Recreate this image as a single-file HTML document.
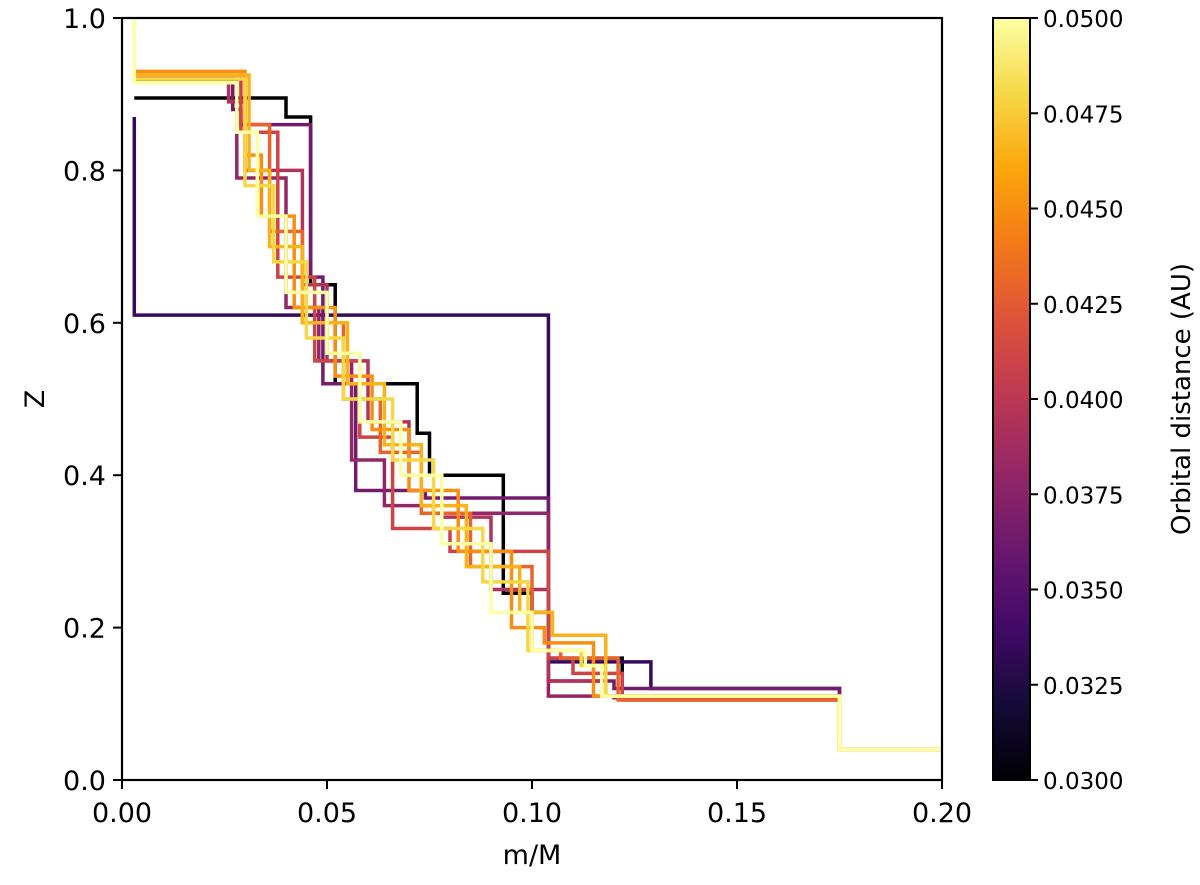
<!DOCTYPE html>
<html><head><meta charset="utf-8"><style>
body{margin:0;background:#fff;}
svg text{font-family:"DejaVu Sans","Liberation Sans",sans-serif;fill:#000;}
</style></head><body>
<svg id="chart" width="1200" height="880" xmlns="http://www.w3.org/2000/svg">
<defs>
<linearGradient id="inferno" x1="0" y1="1" x2="0" y2="0">
<stop offset="0" stop-color="#000004"/><stop offset="0.1" stop-color="#160b39"/><stop offset="0.2" stop-color="#420a68"/><stop offset="0.3" stop-color="#6a176e"/><stop offset="0.4" stop-color="#932667"/><stop offset="0.5" stop-color="#bc3754"/><stop offset="0.6" stop-color="#dd513a"/><stop offset="0.7" stop-color="#f37819"/><stop offset="0.8" stop-color="#fca50a"/><stop offset="0.9" stop-color="#f6d746"/><stop offset="1" stop-color="#fcffa4"/>
</linearGradient>
<clipPath id="plotclip"><rect x="122" y="18" width="820" height="762"/></clipPath>
</defs>
<g id="series" clip-path="url(#plotclip)"></g>
<rect x="122" y="18" width="820" height="762" fill="none" stroke="#000" stroke-width="2.2"/>
<g id="axes"></g>
<text x="532" y="864" font-size="27" text-anchor="middle">m/M</text>
<text x="0" y="0" font-size="27" text-anchor="middle" transform="translate(44,399) rotate(-90)">Z</text>
<rect x="993" y="18" width="37" height="762" fill="url(#inferno)" stroke="#000" stroke-width="2"/>
<g id="cbticks"></g>
<text x="0" y="0" font-size="26" text-anchor="middle" transform="translate(1190,399) rotate(-90)">Orbital distance (AU)</text>
</svg>
<script>
const xTicks=[0,0.05,0.10,0.15,0.20];
const xTickLabels=["0.00","0.05","0.10","0.15","0.20"];
const yTicks=[0,0.2,0.4,0.6,0.8,1.0];
const yTickLabels=["0.0","0.2","0.4","0.6","0.8","1.0"];
const cbTicks=[0.03,0.0325,0.035,0.0375,0.04,0.0425,0.045,0.0475,0.05];
const cbTickLabels=["0.0300","0.0325","0.0350","0.0375","0.0400","0.0425","0.0450","0.0475","0.0500"];
const seriesDist=[0.0300,0.0335,0.0365,0.0380,0.0395,0.0410,0.0430,0.0450,0.0465,0.0480,0.0500];
const seriesMass=[
[0.003,0.040,0.046,0.052,0.072,0.075,0.093,0.100,0.104,0.122,0.175,0.2],
[0.003,0.003,0.104,0.129,0.175,0.2],
[0.003,0.027,0.029,0.046,0.049,0.057,0.074,0.104,0.104,0.120,0.175,0.2],
[0.003,0.028,0.040,0.048,0.056,0.064,0.076,0.104,0.104,0.120,0.175,0.2],
[0.003,0.026,0.030,0.044,0.050,0.060,0.070,0.078,0.090,0.104,0.118,0.175,0.2],
[0.003,0.029,0.038,0.047,0.058,0.066,0.080,0.104,0.110,0.122,0.175,0.2],
[0.003,0.030,0.036,0.044,0.054,0.063,0.073,0.085,0.100,0.107,0.121,0.175,0.2],
[0.003,0.030,0.034,0.042,0.052,0.061,0.070,0.082,0.095,0.103,0.115,0.175,0.2],
[0.003,0.031,0.036,0.044,0.055,0.064,0.073,0.084,0.097,0.105,0.118,0.175,0.2],
[0.003,0.030,0.037,0.045,0.054,0.066,0.076,0.088,0.099,0.112,0.118,0.175,0.2],
[0.003,0.003,0.028,0.033,0.040,0.050,0.058,0.068,0.078,0.090,0.100,0.113,0.117,0.175,0.2]
];
const seriesZ=[
[0.895,0.87,0.65,0.52,0.455,0.40,0.245,0.22,0.16,0.11,0.04],
[0.87,0.61,0.155,0.12,0.04],
[0.92,0.88,0.86,0.66,0.52,0.38,0.37,0.16,0.13,0.12,0.04],
[0.92,0.79,0.62,0.55,0.42,0.36,0.35,0.13,0.11,0.108,0.04],
[0.92,0.89,0.80,0.65,0.55,0.47,0.40,0.345,0.25,0.13,0.11,0.04],
[0.925,0.85,0.66,0.55,0.45,0.33,0.30,0.16,0.14,0.105,0.04],
[0.925,0.86,0.72,0.60,0.50,0.43,0.35,0.28,0.17,0.16,0.105,0.04],
[0.93,0.82,0.74,0.62,0.53,0.46,0.38,0.30,0.20,0.18,0.11,0.04],
[0.925,0.80,0.70,0.60,0.52,0.44,0.36,0.28,0.22,0.19,0.11,0.04],
[0.92,0.78,0.68,0.58,0.50,0.42,0.33,0.26,0.17,0.15,0.11,0.04],
[1.0,0.915,0.85,0.74,0.64,0.56,0.47,0.40,0.31,0.22,0.17,0.15,0.11,0.04]
];
const NS="http://www.w3.org/2000/svg";
const X0=122,X1=942,Y0=780,Y1=18;
const sx=v=>X0+(v-0)/(0.2-0)*(X1-X0);
const sy=v=>Y0-(v-0)/(1-0)*(Y0-Y1);
const scb=v=>780-(v-0.03)/(0.05-0.03)*762;
const stops=[[0,"#000004"],[0.1,"#160b39"],[0.2,"#420a68"],[0.3,"#6a176e"],[0.4,"#932667"],[0.5,"#bc3754"],[0.6,"#dd513a"],[0.7,"#f37819"],[0.8,"#fca50a"],[0.9,"#f6d746"],[1,"#fcffa4"]];
function hx(h){return [1,3,5].map(i=>parseInt(h.substr(i,2),16));}
function cmap(t){t=Math.max(0,Math.min(1,t));for(let i=0;i<stops.length-1;i++){if(t<=stops[i+1][0]){const f=(t-stops[i][0])/(stops[i+1][0]-stops[i][0]);const a=hx(stops[i][1]),b=hx(stops[i+1][1]);return "rgb("+a.map((v,k)=>Math.round(v+(b[k]-v)*f)).join(",")+")";}}return stops[10][1];}
const sg=document.getElementById('series');
seriesDist.forEach((d,i)=>{
  const m=seriesMass[i],z=seriesZ[i];
  let p="M"+sx(m[0])+","+sy(z[0]);
  for(let k=0;k<z.length;k++){
    p+=" L"+sx(m[k+1])+","+sy(z[k]);
    if(k+1<z.length)p+=" L"+sx(m[k+1])+","+sy(z[k+1]);
  }
  const el=document.createElementNS(NS,'path');
  el.setAttribute('d',p);el.setAttribute('fill','none');
  el.setAttribute('stroke',cmap((d-0.03)/0.02));el.setAttribute('stroke-width','3.5');
  
  
  sg.appendChild(el);
});
const ax=document.getElementById('axes');
function line(g,x1,y1,x2,y2){const l=document.createElementNS(NS,'line');l.setAttribute('x1',x1);l.setAttribute('y1',y1);l.setAttribute('x2',x2);l.setAttribute('y2',y2);l.setAttribute('stroke','#000');l.setAttribute('stroke-width','2');g.appendChild(l);return l;}
function txt(g,x,y,s,anchor,fs){const t=document.createElementNS(NS,'text');t.setAttribute('x',x);t.setAttribute('y',y);t.setAttribute('font-size',fs);t.setAttribute('text-anchor',anchor);t.textContent=s;g.appendChild(t);return t;}
xTicks.forEach((v,i)=>{
  const l=line(ax,sx(v),780,sx(v),789);
  
  
  const t=txt(ax,sx(v),822,xTickLabels[i],'middle','27');
  
  
});
yTicks.forEach((v,i)=>{
  const l=line(ax,113,sy(v),122,sy(v));
  
  
  const t=txt(ax,106,sy(v)+10,yTickLabels[i],'end','27');
  
  
});
const cg=document.getElementById('cbticks');
cbTicks.forEach((v,i)=>{
  const l=line(cg,1030,scb(v),1038,scb(v));
  
  
  const t=txt(cg,1043,scb(v)+9,cbTickLabels[i],'start','23');
  
  
});
</script>
</body></html>
